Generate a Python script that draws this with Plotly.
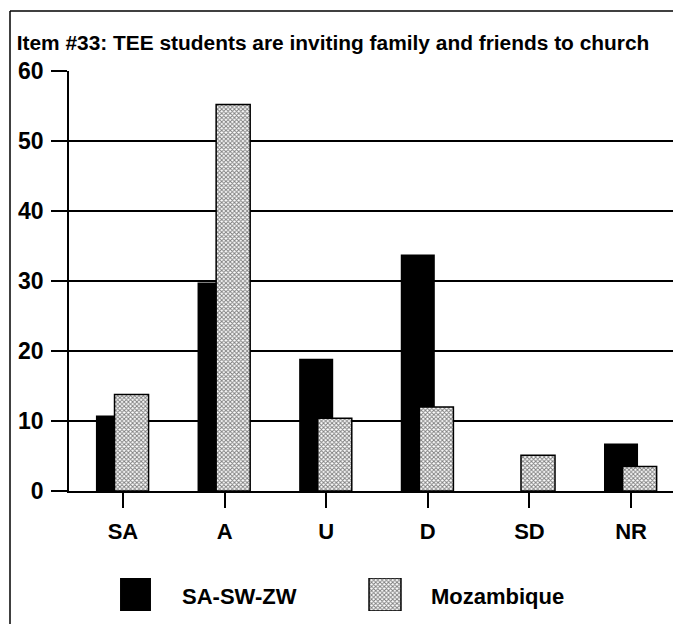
import plotly.graph_objects as go

categories = ["SA", "A", "U", "D", "SD", "NR"]
series_names = ["SA-SW-ZW", "Mozambique"]
sa_sw_zw = [10.8, 29.8, 18.9, 33.8, 0, 6.8]
mozambique = [13.8, 55.2, 10.4, 12.0, 5.1, 3.5]
y_ticks = [0, 10, 20, 30, 40, 50, 60]
title_text = "Item #33: TEE students are inviting family and friends to church"

W, H = 673, 624
FONT = "Liberation Sans, Arial, sans-serif"
BLACK = dict(color="black", line=dict(color="black", width=0))
PATTERN = dict(color="white", line=dict(color="black", width=1.5),
               pattern=dict(shape="x", fgcolor="black", bgcolor="white", size=3, solidity=0.55))

def fx(p):
    return p / W

def fy(p):
    return 1 - p / H

fig = go.Figure()
fig.add_trace(go.Bar(x=categories, y=sa_sw_zw, name=series_names[0],
                     width=0.335, offset=-0.266, marker=BLACK))
fig.add_trace(go.Bar(x=categories, y=mozambique, name=series_names[1],
                     width=0.335, offset=-0.083, marker=PATTERN))

# legend swatches drawn as bars on a hidden helper axis
fig.add_trace(go.Bar(x=[series_names[0]], y=[1], xaxis="x2", yaxis="y2",
                     width=0.124, marker=BLACK, hoverinfo="skip"))
fig.add_trace(go.Bar(x=[series_names[1]], y=[1], xaxis="x2", yaxis="y2",
                     width=0.128, marker=PATTERN, hoverinfo="skip"))

leg_x0, leg_x1 = 100, 420
leg_spacing = 385 - 135.5
leg_start = -(135.5 - leg_x0) / leg_spacing
leg_end = leg_start + (leg_x1 - leg_x0) / leg_spacing

border = dict(color="black", width=1.5)
shapes = [
    dict(type="line", xref="paper", yref="paper", x0=fx(10), x1=fx(10), y0=0, y1=fy(11), line=border),
    dict(type="line", xref="paper", yref="paper", x0=fx(10), x1=1, y0=fy(11), y1=fy(11), line=border),
]

annotations = [
    dict(text=series_names[0], xref="paper", yref="paper", x=fx(180), y=fy(596),
         xanchor="left", yanchor="middle", showarrow=False,
         font=dict(family=FONT, size=22, color="black", weight="bold")),
    dict(text=series_names[1], xref="paper", yref="paper", x=fx(429), y=fy(596),
         xanchor="left", yanchor="middle", showarrow=False,
         font=dict(family=FONT, size=22, color="black", weight="bold")),
]

fig.update_layout(
    width=W, height=H, autosize=False,
    margin=dict(l=0, r=0, t=0, b=0, pad=0, autoexpand=False),
    paper_bgcolor="white", plot_bgcolor="rgba(0,0,0,0)",
    barmode="overlay", showlegend=False,
    title=dict(text=title_text, x=333 / W, xanchor="center", y=fy(43), yanchor="middle",
               yref="container", xref="container", automargin=False,
               font=dict(family=FONT, size=20.9, color="black", weight="bold")),
    shapes=shapes,
    annotations=annotations,
    xaxis=dict(domain=[fx(69), 1], range=[-0.531, 5.413], showgrid=False, automargin=False,
               showline=True, linecolor="black", linewidth=1.5,
               ticks="outside", ticklen=15, tickwidth=1.5, tickcolor="black",
               ticklabelstandoff=5,
               tickfont=dict(family=FONT, size=22, color="black", weight="bold")),
    yaxis=dict(domain=[fy(491), fy(71)], range=[0, 60], tickvals=y_ticks, automargin=False,
               showgrid=True, gridcolor="black", gridwidth=1.5,
               showline=True, linecolor="black", linewidth=1.5,
               ticks="outside", ticklen=16, tickwidth=1.5, tickcolor="black",
               ticklabelstandoff=3, zeroline=False,
               tickfont=dict(family=FONT, size=23, color="black", weight="bold")),
    xaxis2=dict(domain=[fx(leg_x0), fx(leg_x1)], range=[leg_start, leg_end], anchor="y2",
                visible=False, fixedrange=True, automargin=False),
    yaxis2=dict(domain=[fy(611), fy(578)], range=[0, 1], anchor="x2",
                visible=False, fixedrange=True, automargin=False),
)

fig.write_html("out.html", config={"displayModeBar": False},
               post_script="document.body.style.margin='0px';document.body.style.overflow='hidden';")
